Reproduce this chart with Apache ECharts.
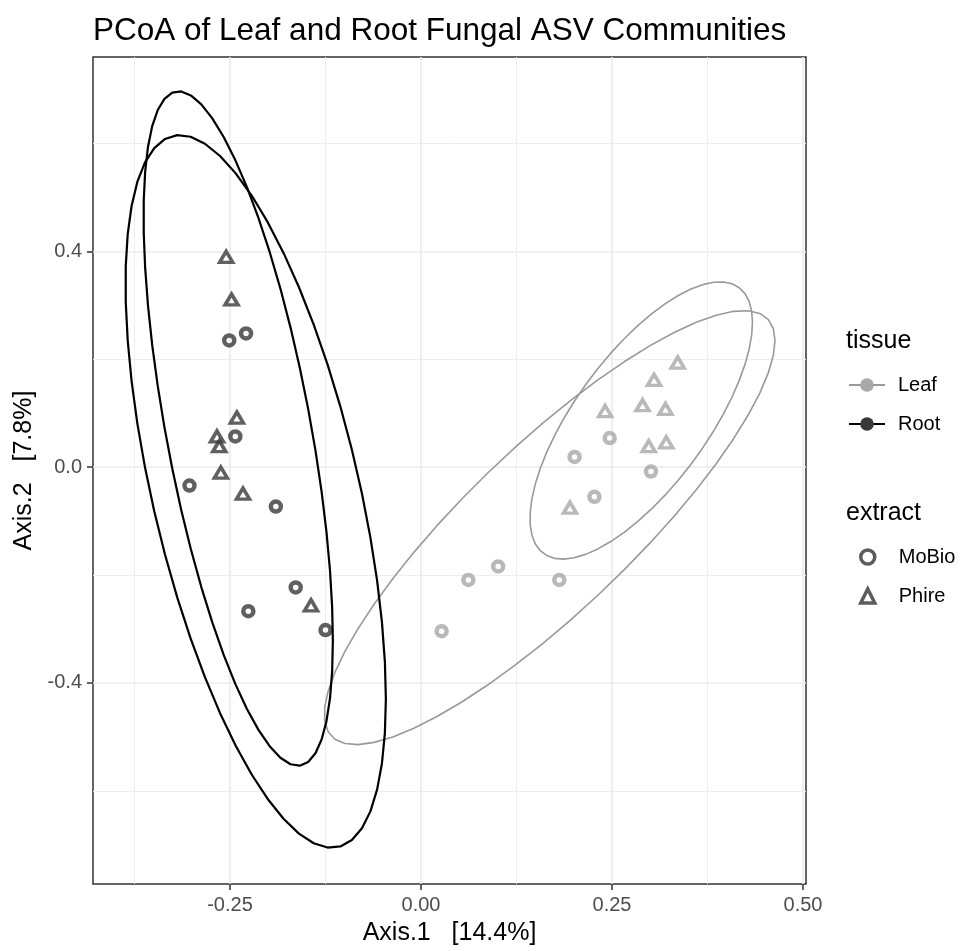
<!DOCTYPE html>
<html><head><meta charset="utf-8">
<script src="https://cdn.jsdelivr.net/npm/echarts@6/dist/echarts.min.js"></script>
<style>html,body{margin:0;padding:0;background:#fff}#chart{width:964px;height:951px}</style>
</head><body><div id="chart"></div>
<script>
// ---------- texts ----------
const titleText = 'PCoA of Leaf and Root Fungal ASV Communities';
const xAxisTitle = 'Axis.1   [14.4%]';
const yAxisTitle = 'Axis.2   [7.8%]';
const tissueTitle = 'tissue';
const extractTitle = 'extract';
const tissueLevels = ['Leaf', 'Root'];
const extractLevels = ['MoBio', 'Phire'];

// ---------- tick values ----------
const xMajorTicks = [-0.25, 0, 0.25, 0.5];
const xMinorTicks = [-0.375, -0.125, 0.125, 0.375];
const yMajorTicks = [-0.4, 0, 0.4];
const yMinorTicks = [-0.6, -0.2, 0.2, 0.6];

// ---------- sample coordinates (Axis.1, Axis.2) ----------
const rootMoBioX = [-0.251, -0.229, -0.243, -0.303, -0.190, -0.164, -0.226, -0.125];
const rootMoBioY = [0.235, 0.248, 0.057, -0.034, -0.073, -0.223, -0.267, -0.302];
const rootPhireX = [-0.255, -0.248, -0.241, -0.267, -0.264, -0.262, -0.233, -0.144];
const rootPhireY = [0.390, 0.311, 0.092, 0.057, 0.039, -0.010, -0.049, -0.256];
const leafMoBioX = [0.247, 0.201, 0.301, 0.227, 0.101, 0.062, 0.181, 0.027];
const leafMoBioY = [0.054, 0.019, -0.008, -0.055, -0.184, -0.209, -0.209, -0.304];
const leafPhireX = [0.336, 0.305, 0.290, 0.320, 0.241, 0.298, 0.321, 0.195];
const leafPhireY = [0.194, 0.162, 0.115, 0.108, 0.104, 0.039, 0.046, -0.075];

const ellipseLevel = 0.95;

// ---------- layout / style ----------
const FONT = '"Liberation Sans", Arial, Helvetica, sans-serif';
const X_MIN = -0.4293, X_MAX = 0.5039;
const Y_MIN = -0.7728, Y_MAX = 0.7606;
const tissueStyle = {
  Leaf: { point: '#a8a8a8', line: '#999999', lineWidth: 1.6 },
  Root: { point: '#383838', line: '#000000', lineWidth: 2.2 }
};
const extractSymbol = {
  MoBio: { symbol: 'circle', size: 10, border: 4.5 },
  Phire: { symbol: 'triangle', size: [13, 11], border: 3.5 }
};

const groups = [
  { tissue: 'Leaf', extract: 'MoBio', x: leafMoBioX, y: leafMoBioY },
  { tissue: 'Leaf', extract: 'Phire', x: leafPhireX, y: leafPhireY },
  { tissue: 'Root', extract: 'MoBio', x: rootMoBioX, y: rootMoBioY },
  { tissue: 'Root', extract: 'Phire', x: rootPhireX, y: rootPhireY }
];

// sample mean and covariance (n - 1), as stat_ellipse(type = "norm")
function covNorm(xs, ys) {
  const n = xs.length;
  const mx = xs.reduce((a, b) => a + b, 0) / n, my = ys.reduce((a, b) => a + b, 0) / n;
  let a = 0, b = 0, c = 0;
  xs.forEach((x, i) => { const dx = x - mx, dy = ys[i] - my; a += dx * dx; b += dx * dy; c += dy * dy; });
  return { center: [mx, my], cov: [a / (n - 1), b / (n - 1), c / (n - 1)] };
}

function ellipsePath(xs, ys) {
  const n = xs.length, dfd = n - 1;
  // F(2, dfd) quantile, closed form
  const qf = (dfd / 2) * (Math.pow(1 - ellipseLevel, -2 / dfd) - 1);
  const radius = Math.sqrt(2 * qf);
  const { center, cov } = covNorm(xs, ys);
  const r11 = Math.sqrt(cov[0]), r12 = cov[1] / r11, r22 = Math.sqrt(cov[2] - r12 * r12);
  const segs = 51, pts = [];
  for (let k = 0; k <= segs; k++) {
    const t = k * 2 * Math.PI / segs, ct = Math.cos(t), st = Math.sin(t);
    pts.push([center[0] + radius * ct * r11, center[1] + radius * (ct * r12 + st * r22)]);
  }
  return pts;
}

const series = [];
groups.forEach(g => {
  const ts = tissueStyle[g.tissue], es = extractSymbol[g.extract];
  series.push({
    name: g.tissue + ' ' + g.extract, type: 'scatter',
    data: g.x.map((x, i) => [x, g.y[i]]),
    symbol: es.symbol, symbolSize: es.size, silent: true, z: 2,
    itemStyle: { color: 'rgba(0,0,0,0)', borderColor: ts.point, borderWidth: es.border, borderJoin: 'miter' }
  });
});
groups.forEach(g => {
  const ts = tissueStyle[g.tissue];
  series.push({
    name: g.tissue + ' ' + g.extract + ' ellipse', type: 'line',
    data: ellipsePath(g.x, g.y), showSymbol: false, symbol: 'none', silent: true, z: 3,
    lineStyle: { color: ts.line, width: ts.lineWidth }
  });
});
// legend carriers
tissueLevels.forEach(t => {
  const ts = tissueStyle[t];
  series.push({ name: t, type: 'line', data: [], symbol: 'circle',
    lineStyle: { color: ts.line, width: 2 }, itemStyle: { color: ts.point } });
});
extractLevels.forEach(e => {
  const es = extractSymbol[e];
  series.push({ name: e, type: 'scatter', data: [], symbol: es.symbol,
    itemStyle: { color: 'rgba(0,0,0,0)', borderColor: '#333', borderWidth: 3.5 } });
});

const chart = echarts.init(document.getElementById('chart'), null, { renderer: 'canvas' });
chart.setOption({
  animation: false,
  backgroundColor: '#ffffff',
  title: [
    { text: titleText, left: 93, top: 15, padding: 0,
      textStyle: { fontSize: 31.5, lineHeight: 32, fontWeight: 'normal', color: '#000', fontFamily: FONT } },
    { text: tissueTitle, left: 846, top: 329, padding: 0,
      textStyle: { fontSize: 25, lineHeight: 25, fontWeight: 'normal', color: '#000', fontFamily: FONT } },
    { text: extractTitle, left: 846, top: 501, padding: 0,
      textStyle: { fontSize: 25, lineHeight: 25, fontWeight: 'normal', color: '#000', fontFamily: FONT } }
  ],
  legend: [
    { data: tissueLevels, orient: 'vertical', left: 848, top: 375, padding: 0,
      itemWidth: 36, itemHeight: 17, itemGap: 19, selectedMode: false,
      textStyle: { fontSize: 20, lineHeight: 20, color: '#000', fontFamily: FONT, padding: [0, 0, 0, 8] } },
    { data: extractLevels.map(e => ({ name: e, icon: extractSymbol[e].symbol })),
      orient: 'vertical', left: 859, top: 547, padding: 0,
      itemWidth: 14, itemHeight: 14, itemGap: 19, selectedMode: false,
      itemStyle: { color: 'rgba(0,0,0,0)', borderColor: '#333', borderWidth: 3.5 },
      textStyle: { fontSize: 20, lineHeight: 20, color: '#000', fontFamily: FONT, padding: [0, 0, 0, 19] } }
  ],
  grid: { left: 93, right: 158, top: 57, bottom: 66, show: true, borderColor: '#333', borderWidth: 1.5,
    backgroundColor: 'rgba(0,0,0,0)', containLabel: false },
  xAxis: [
    { type: 'value', min: X_MIN, max: X_MAX,
      name: xAxisTitle, nameLocation: 'middle', nameGap: 37,
      nameTextStyle: { fontSize: 25, color: '#000', fontFamily: FONT },
      axisLine: { show: false, onZero: false },
      axisTick: { show: true, length: 6, lineStyle: { color: '#333', width: 1.5 }, customValues: xMajorTicks },
      axisLabel: { customValues: xMajorTicks, formatter: v => Number(v).toFixed(2), fontSize: 20, color: '#4d4d4d', margin: 11, fontFamily: FONT },
      splitLine: { show: true, lineStyle: { color: '#ebebeb', width: 1.6 } } },
    { type: 'value', min: X_MIN, max: X_MAX, position: 'bottom',
      axisLine: { show: false, onZero: false }, axisTick: { show: false, customValues: xMinorTicks },
      axisLabel: { show: false, customValues: xMinorTicks },
      splitLine: { show: true, lineStyle: { color: '#eeeeee', width: 1 } } }
  ],
  yAxis: [
    { type: 'value', min: Y_MIN, max: Y_MAX,
      name: yAxisTitle, nameLocation: 'middle', nameGap: 52, nameRotate: 90,
      nameTextStyle: { fontSize: 25, color: '#000', fontFamily: FONT },
      axisLine: { show: false, onZero: false },
      axisTick: { show: true, length: 6, lineStyle: { color: '#333', width: 1.5 }, customValues: yMajorTicks },
      axisLabel: { customValues: yMajorTicks, formatter: v => Number(v).toFixed(1), fontSize: 20, color: '#4d4d4d', margin: 11, fontFamily: FONT },
      splitLine: { show: true, lineStyle: { color: '#ebebeb', width: 1.6 } } },
    { type: 'value', min: Y_MIN, max: Y_MAX, position: 'left',
      axisLine: { show: false, onZero: false }, axisTick: { show: false, customValues: yMinorTicks },
      axisLabel: { show: false, customValues: yMinorTicks },
      splitLine: { show: true, lineStyle: { color: '#eeeeee', width: 1 } } }
  ],
  series: series
});
</script>
</body></html>
